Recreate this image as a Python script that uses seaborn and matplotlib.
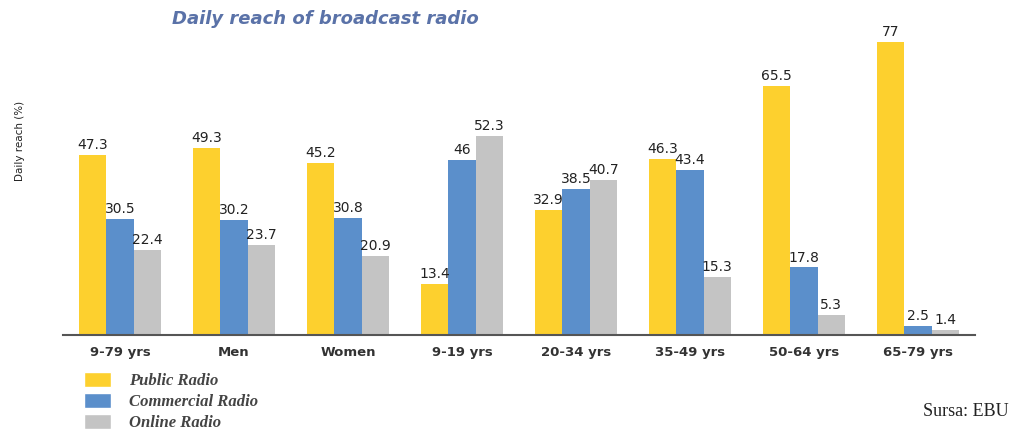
import numpy as np
import pandas as pd
import matplotlib.pyplot as plt
import seaborn as sns
from matplotlib.patches import Patch

groups = ['9-79 yrs', 'Men', 'Women', '9-19 yrs', '20-34 yrs', '35-49 yrs', '50-64 yrs', '65-79 yrs']
public = [47.3, 49.3, 45.2, 13.4, 32.9, 46.3, 65.5, 77]
commercial = [30.5, 30.2, 30.8, 46, 38.5, 43.4, 17.8, 2.5]
online = [22.4, 23.7, 20.9, 52.3, 40.7, 15.3, 5.3, 1.4]
series = ['Public Radio', 'Commercial Radio', 'Online Radio']
colors = ['#FDD02E', '#5B8FCB', '#C4C4C4']

df = pd.DataFrame({
    'group': groups * 3,
    'value': public + commercial + online,
    'radio': [s for s in series for _ in groups],
})

sns.set_style('white')
fig = plt.figure(figsize=(10.11, 4.29), dpi=100)
ax = fig.add_axes([0.0623, 0.219, 0.902, 0.758])
sns.barplot(data=df, x='group', y='value', hue='radio', palette=colors,
            width=0.72, saturation=1, linewidth=0, ax=ax, legend=False)

for cont in ax.containers:
    ax.bar_label(cont, labels=['%g' % v for v in cont.datavalues],
                 padding=2, fontsize=10, color='#222222')

ax.set_xlim(-0.5, 7.5)
ax.set_ylim(0, 85.5)
ax.set_yticks([])
ax.set_xlabel('')
ax.set_ylabel('')
for s in ['top', 'right', 'left']:
    ax.spines[s].set_visible(False)
ax.spines['bottom'].set_color('#555555')
ax.spines['bottom'].set_linewidth(1.5)
ax.tick_params(axis='x', length=0, pad=8, labelsize=9.5, labelcolor='#333333')
for t in ax.get_xticklabels():
    t.set_fontweight('bold')

fig.text(0.322, 0.955, 'Daily reach of broadcast radio', ha='center', va='center',
         fontsize=13, style='italic', fontweight='bold', color='#5A72A8')
fig.text(0.02, 0.672, 'Daily reach (%)', rotation=90, ha='center', va='center',
         fontsize=7.5, color='#222222')

handles = [Patch(facecolor=c) for c in colors]
leg = fig.legend(handles, series, loc='upper left', bbox_to_anchor=(0.072, 0.16),
                 frameon=False, handlelength=1.6, handleheight=1.0, labelspacing=0.22,
                 handletextpad=1.1, borderaxespad=0.3,
                 prop={'family': 'Liberation Serif', 'style': 'italic',
                       'weight': 'bold', 'size': 12})
for t in leg.get_texts():
    t.set_color('#444444')

fig.text(0.998, 0.04, 'Sursa: EBU', ha='right', va='center', fontsize=13,
         family='Liberation Serif', color='#222222')

fig.savefig('out.png', dpi=100)
